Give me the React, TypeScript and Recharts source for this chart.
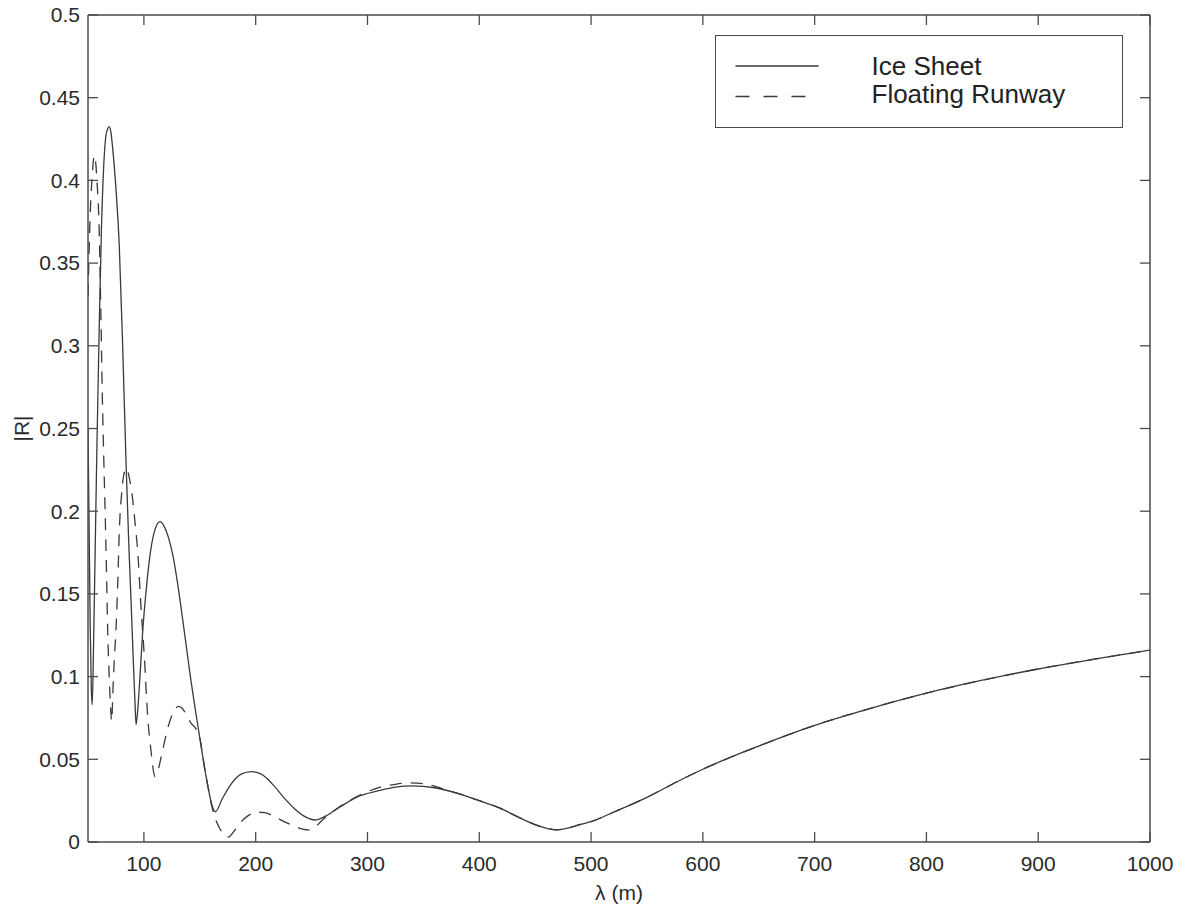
import { LineChart, Line, XAxis, YAxis, Legend, Label } from 'recharts';

// |R| against wavelength, sampled along each curve
const iceLambda = [
  50, 51, 52, 53, 53.8, 55, 56.5, 58, 60, 62, 64, 66, 67.5, 68.8, 70.5, 72, 75, 78, 81, 84,
  86.5, 88.5, 90.5, 92, 93, 94.5, 96.5, 99, 102, 106, 110, 114.4, 118, 122, 126, 130,
  134, 138, 142, 146, 150, 154, 158, 161, 164, 170, 178, 187, 196, 205, 215, 225, 235, 245,
  253, 262, 275, 290, 310, 325, 340, 360, 380, 400, 418, 435, 450, 462, 469, 478, 490, 500,
  520, 550, 580, 600, 650, 700, 750, 800, 850, 900, 950, 1000,
];
const iceR = [
  0.25, 0.19, 0.13, 0.092, 0.083, 0.12, 0.18, 0.24, 0.31, 0.37, 0.408, 0.427, 0.431, 0.4325, 0.429, 0.42, 0.395, 0.36, 0.3, 0.23,
  0.18, 0.146, 0.11, 0.085, 0.071, 0.08, 0.1, 0.128, 0.152, 0.176, 0.189, 0.1937, 0.191, 0.184, 0.173, 0.157,
  0.138, 0.118, 0.098, 0.08, 0.063, 0.046, 0.031, 0.022, 0.0183, 0.026, 0.035, 0.041, 0.0425, 0.041, 0.035, 0.027, 0.02, 0.015,
  0.0133, 0.0155, 0.021, 0.027, 0.031, 0.0332, 0.0339, 0.0328, 0.0295, 0.025, 0.0206, 0.015, 0.0105, 0.008, 0.0073, 0.0082, 0.0105, 0.0123,
  0.018, 0.027, 0.0375, 0.044, 0.058, 0.0705, 0.0808, 0.09, 0.0978, 0.1046, 0.1105, 0.116,
];

const runwayLambda = [
  50, 52, 54, 55.6, 57, 58, 60, 61.5, 62.8, 64, 65.3, 66.5, 67.6, 69, 70.3, 71.2, 72.2, 73.5, 75, 76.6,
  78, 80, 82, 84.5, 87, 90, 92.5, 94.4, 97.4, 100.4, 103.4, 106.4, 108.5, 110, 112, 116, 121, 126,
  131, 134, 138, 142, 146, 150, 154, 158, 161, 164, 168, 172, 175.5, 180, 186, 193, 201, 208,
  215, 225, 235, 242, 247, 253, 260, 268, 280, 295, 310, 325, 338, 350, 365, 380, 400, 418, 435,
  450, 462, 469, 478, 490, 500, 520, 550, 580, 600, 650, 700, 750, 800, 850, 900, 950, 1000,
];
const runwayR = [
  0.33, 0.38, 0.405, 0.415, 0.41, 0.4, 0.37, 0.32, 0.27, 0.235, 0.2, 0.165, 0.128, 0.1, 0.08, 0.073, 0.09, 0.11, 0.128, 0.156,
  0.188, 0.21, 0.222, 0.226, 0.22, 0.207, 0.19, 0.1765, 0.142, 0.112, 0.0757, 0.055, 0.043, 0.0395, 0.042, 0.053, 0.068, 0.078,
  0.082, 0.081, 0.077, 0.072, 0.069, 0.063, 0.046, 0.031, 0.021, 0.014, 0.008, 0.004, 0.003, 0.006, 0.0115, 0.0158, 0.018, 0.0178,
  0.016, 0.0125, 0.0095, 0.0078, 0.0073, 0.009, 0.0135, 0.018, 0.0235, 0.029, 0.0328, 0.0349, 0.0357, 0.0352, 0.0327, 0.0295, 0.025, 0.0206, 0.015,
  0.0105, 0.008, 0.0073, 0.0082, 0.0105, 0.0123, 0.018, 0.027, 0.0375, 0.044, 0.058, 0.0705, 0.0808, 0.09, 0.0978, 0.1046, 0.1105, 0.116,
];

const xTicks = [100, 200, 300, 400, 500, 600, 700, 800, 900, 1000];
const yTicks = [0, 0.05, 0.1, 0.15, 0.2, 0.25, 0.3, 0.35, 0.4, 0.45, 0.5];

const iceData = iceLambda.map((lambda, i) => ({ lambda, r: iceR[i] }));
const runwayData = runwayLambda.map((lambda, i) => ({ lambda, r: runwayR[i] }));

const AXIS = '#4a4a4a';
const INK = '#3a3a3a';
const FONT = '"Liberation Sans", Arial, Helvetica, sans-serif';
const TICK_LEN = 10;
const DASH = '12 9';

const tickText = { fontFamily: FONT, fontSize: 21, fill: '#2a2a2a' };

// ticks point into the plot, matlab style
function BottomTick({ x, y, payload }: any) {
  return (
    <g>
      <line x1={x} y1={y} x2={x} y2={y - TICK_LEN} stroke={AXIS} strokeWidth={1.3} />
      <text x={x} y={y + 22} dy="0.35em" textAnchor="middle" style={tickText}>
        {payload.value}
      </text>
    </g>
  );
}

function TopTick({ x, y }: any) {
  return <line x1={x} y1={y} x2={x} y2={y + TICK_LEN} stroke={AXIS} strokeWidth={1.3} />;
}

function LeftTick({ x, y, payload }: any) {
  return (
    <g>
      <line x1={x} y1={y} x2={x + TICK_LEN} y2={y} stroke={AXIS} strokeWidth={1.3} />
      <text x={x - 8} y={y} dy="0.35em" textAnchor="end" style={tickText}>
        {String(payload.value)}
      </text>
    </g>
  );
}

function RightTick({ x, y }: any) {
  return <line x1={x} y1={y} x2={x - TICK_LEN} y2={y} stroke={AXIS} strokeWidth={1.3} />;
}

function XTitle({ viewBox }: any) {
  const { x, y, width } = viewBox;
  return (
    <text x={x + width / 2} y={y + 51} dy="0.35em" textAnchor="middle" style={tickText}>
      λ (m)
    </text>
  );
}

function YTitle({ viewBox }: any) {
  const { x, y, height } = viewBox;
  const cx = x - 65;
  const cy = y + height / 2;
  return (
    <text transform={`translate(${cx},${cy}) rotate(-90)`} dy="0.35em" textAnchor="middle" style={tickText}>
      |R|
    </text>
  );
}

function LegendBox() {
  const label = { fontFamily: FONT, fontSize: 26, fill: '#222' };
  return (
    <div style={{ width: 408, height: 93, border: `1.5px solid ${AXIS}`, boxSizing: 'border-box', background: '#fff' }}>
      <svg width={405} height={90} style={{ display: 'block' }}>
        <line x1={19.5} y1={30} x2={102.5} y2={30} stroke={INK} strokeWidth={1.3} />
        <text x={155.5} y={39} style={label}>Ice Sheet</text>
        <line x1={19.5} y1={60.5} x2={92} y2={60.5} stroke={INK} strokeWidth={1.3} strokeDasharray="14 14" />
        <text x={155.5} y={66.5} style={label}>Floating Runway</text>
      </svg>
    </div>
  );
}

export default function App() {
  return (
    <div style={{ position: 'absolute', left: 0, top: 0, background: '#fff' }}>
      <LineChart width={1190} height={911} margin={{ top: 14, right: 39, bottom: 68, left: 87 }}>
        <XAxis
          dataKey="lambda"
          type="number"
          domain={[50, 1000]}
          ticks={xTicks}
          allowDataOverflow
          height={1}
          tickSize={0}
          tickMargin={0}
          tickLine={false}
          tick={<BottomTick />}
          axisLine={{ stroke: AXIS, strokeWidth: 1.5 }}
          interval={0}
        >
          <Label content={<XTitle />} />
        </XAxis>
        <XAxis
          xAxisId="top"
          orientation="top"
          dataKey="lambda"
          type="number"
          domain={[50, 1000]}
          ticks={xTicks}
          allowDataOverflow
          height={1}
          tickSize={0}
          tickMargin={0}
          tickLine={false}
          tick={<TopTick />}
          axisLine={{ stroke: AXIS, strokeWidth: 1.5 }}
          interval={0}
        />
        <YAxis
          type="number"
          domain={[0, 0.5]}
          ticks={yTicks}
          allowDataOverflow
          width={1}
          tickSize={0}
          tickMargin={0}
          tickLine={false}
          tick={<LeftTick />}
          axisLine={{ stroke: AXIS, strokeWidth: 1.5 }}
          interval={0}
        >
          <Label content={<YTitle />} />
        </YAxis>
        <YAxis
          yAxisId="right"
          orientation="right"
          type="number"
          domain={[0, 0.5]}
          ticks={yTicks}
          allowDataOverflow
          width={1}
          tickSize={0}
          tickMargin={0}
          tickLine={false}
          tick={<RightTick />}
          axisLine={{ stroke: AXIS, strokeWidth: 1.5 }}
          interval={0}
        />
        <Legend
          layout="vertical"
          align="center"
          verticalAlign="middle"
          content={<LegendBox />}
          wrapperStyle={{ position: 'absolute', left: 715, top: 35, width: 408, height: 93 }}
        />
        <Line
          data={iceData}
          dataKey="r"
          name="Ice Sheet"
          type="monotone"
          stroke={INK}
          strokeWidth={1.3}
          dot={false}
          activeDot={false}
          isAnimationActive={false}
        />
        <Line
          data={runwayData}
          dataKey="r"
          name="Floating Runway"
          type="monotone"
          stroke={INK}
          strokeWidth={1.3}
          strokeDasharray={DASH}
          dot={false}
          activeDot={false}
          isAnimationActive={false}
        />
      </LineChart>
    </div>
  );
}
